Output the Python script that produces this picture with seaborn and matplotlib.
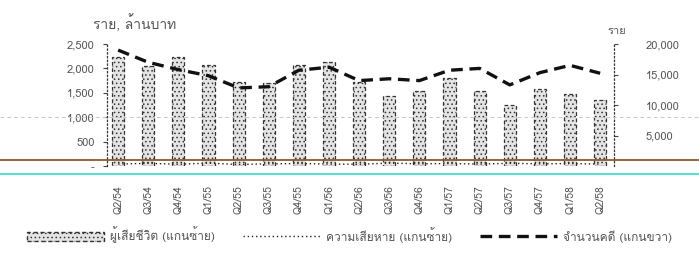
import numpy as np
import pandas as pd
import matplotlib
matplotlib.use("Agg")
import matplotlib.pyplot as plt
import seaborn as sns
from matplotlib import font_manager, ft2font
from matplotlib.lines import Line2D
from matplotlib.patches import Patch

quarters = ["Q2/54", "Q3/54", "Q4/54", "Q1/55", "Q2/55", "Q3/55", "Q4/55", "Q1/56",
            "Q2/56", "Q3/56", "Q4/56", "Q1/57", "Q2/57", "Q3/57", "Q4/57", "Q1/58", "Q2/58"]
deaths = [2230, 2050, 2230, 2070, 1720, 1700, 2070, 2130,
          1720, 1440, 1540, 1800, 1540, 1250, 1580, 1480, 1350]
losses = [40, 55, 35, 60, 30, 45, 50, 40, 35, 60, 45, 50, 40, 55, 45, 50, 40]
cases = [19000, 17000, 15800, 14800, 12800, 13000, 15700, 16200,
         14000, 14300, 14000, 15700, 16000, 13300, 15300, 16500, 15200]
left_ticks = [0, 500, 1000, 1500, 2000, 2500]
left_labels = ["-", "500", "1,000", "1,500", "2,000", "2,500"]
right_ticks = [5000, 10000, 15000, 20000]
right_labels = ["5,000", "10,000", "15,000", "20,000"]
left_title = "ราย, ล้านบาท"
right_title = "ราย"
legend_labels = ["ผู้เสียชีวิต (แกนซ้าย)", "ความเสียหาย (แกนซ้าย)", "จำนวนคดี (แกนขวา)"]

sns.set_style("white")

thai_fam = None
for f in font_manager.fontManager.ttflist:
    try:
        cm = ft2font.FT2Font(f.fname).get_charmap()
        if 0x0E23 in cm and 0x0E35 in cm and 0x0E49 in cm:
            thai_fam = f.name
            break
    except Exception:
        pass
fams = ([thai_fam] if thai_fam else []) + ["DejaVu Sans"]
plt.rcParams["font.family"] = fams
plt.rcParams["hatch.linewidth"] = 0.6
plt.rcParams["hatch.color"] = "#9a9a9a"

txt = "#555555"
fig = plt.figure(figsize=(6.99, 2.6), dpi=100)
ax = fig.add_axes([107/699, 1-166/260, (614-107)/699, (166-44)/260])

df = pd.DataFrame({"q": quarters, "deaths": deaths, "losses": losses, "cases": cases})
sns.barplot(data=df, x="q", y="deaths", ax=ax, color="#e4e4e4", width=0.4,
            edgecolor="#333333", linewidth=0.9, saturation=1)
for p in ax.patches:
    p.set_linestyle((0, (3, 2)))
    p.set_hatch("....")
df["xi"] = np.arange(len(quarters))
sns.lineplot(data=df, x="xi", y="losses", ax=ax, color="#222222", linewidth=1.0,
             linestyle=(0, (1, 2)))
ax.set_xlim(-0.37, len(quarters) - 0.54)
ax.set_ylim(0, 2500)
ax.set_yticks(left_ticks)
ax.set_yticklabels(left_labels)
ax.set_xlabel("")
ax.set_ylabel("")
ax.tick_params(axis="x", rotation=90, labelsize=7.5, labelcolor=txt, length=0, pad=14)
ax.tick_params(axis="y", labelsize=8, labelcolor=txt, length=3, color="#444444", pad=6, direction="out", left=True)

ax2 = ax.twinx()
sns.lineplot(data=df, x="xi", y="cases", ax=ax2, color="#111111", linewidth=2.4,
             linestyle=(0, (3.5, 2)))
ax2.set_ylim(0, 20000)
ax2.set_yticks(right_ticks)
ax2.set_yticklabels(right_labels)
ax2.set_ylabel("")
ax2.tick_params(axis="y", labelsize=8, labelcolor=txt, length=3, color="#444444", pad=20, direction="out", right=True)

for a in (ax, ax2):
    for s in ["top", "bottom"]:
        a.spines[s].set_visible(False)
    a.spines["left"].set_visible(a is ax)
    a.spines["right"].set_visible(a is ax2)
ax.spines["left"].set_linestyle((0, (1, 2)))
ax.spines["left"].set_color("#333333")
ax.spines["left"].set_linewidth(0.9)
ax2.spines["right"].set_linestyle((0, (1, 2)))
ax2.spines["right"].set_color("#333333")
ax2.spines["right"].set_linewidth(0.9)

fig.text(93/699, 1-23/260, left_title, fontsize=10, color=txt, va="center", ha="left")
fig.text(617/699, 1-31/260, right_title, fontsize=8, color=txt, va="center", ha="center")

handles = [Patch(facecolor="#e4e4e4", edgecolor="#333333", hatch="....", linestyle=(0, (3, 2))),
           Line2D([], [], color="#222222", linewidth=1.0, linestyle=(0, (1, 2))),
           Line2D([], [], color="#111111", linewidth=2.4, linestyle=(0, (3.5, 2)))]
fig.legend(handles, legend_labels, loc="center", bbox_to_anchor=(0.5, 1-235/260), ncol=3,
           frameon=False, fontsize=8.6, handlelength=6.5, handleheight=0.7, columnspacing=2.3,
           handletextpad=0.5, labelcolor=txt)

# scan artifacts
fig.add_artist(Line2D([0, 1], [1-117/260, 1-117/260], transform=fig.transFigure,
                      color="#c8c8c8", linewidth=0.7, linestyle=(0, (4, 3))))
fig.add_artist(Line2D([0, 1], [1-160/260, 1-160/260], transform=fig.transFigure,
                      color="#8b5a2b", linewidth=1.3))
fig.add_artist(Line2D([0, 1], [1-174/260, 1-174/260], transform=fig.transFigure,
                      color="#40e0d0", linewidth=1.3))

fig.savefig("out.png", dpi=100)
